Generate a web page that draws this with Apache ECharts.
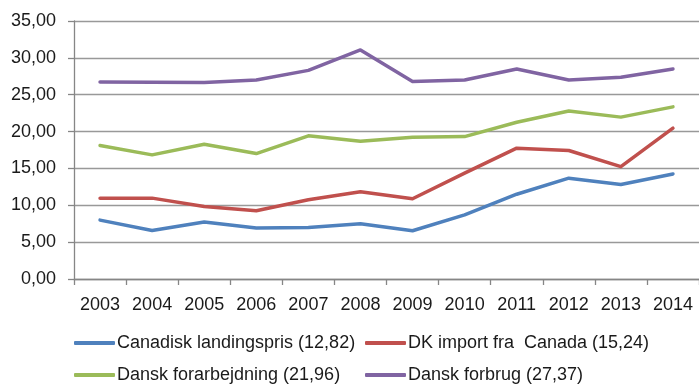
<!DOCTYPE html>
<html>
<head>
<meta charset="utf-8">
<script src="https://cdn.jsdelivr.net/npm/echarts@6/dist/echarts.min.js"></script>
<style>
  html, body { margin: 0; padding: 0; background: #fff; }
  #chart { width: 699px; height: 384px; }
</style>
</head>
<body>
<div id="chart"></div>
<script>
// Years on the category axis
const years = ['2003','2004','2005','2006','2007','2008','2009','2010','2011','2012','2013','2014'];

// Price series (DKK/kg)
const canadiskLandingspris = [7.99, 6.59, 7.72, 6.91, 6.98, 7.49, 6.54, 8.70, 11.50, 13.68, 12.82, 14.25];
const dkImportFraCanada    = [10.97, 10.97, 9.84, 9.25, 10.74, 11.85, 10.88, 14.36, 17.75, 17.43, 15.24, 20.46];
const danskForarbejdning   = [18.10, 16.84, 18.29, 17.02, 19.42, 18.70, 19.24, 19.32, 21.27, 22.80, 21.96, 23.35];
const danskForbrug         = [26.73, 26.70, 26.65, 27.00, 28.30, 31.07, 26.80, 27.00, 28.50, 27.00, 27.37, 28.50];

// Series names as shown in the legend
const names = [
  'Canadisk landingspris (12,82)',
  'DK import fra  Canada (15,24)',
  'Dansk forarbejdning (21,96)',
  'Dansk forbrug (27,37)'
];

// Y-axis range
const yMin = 0, yMax = 35, yStep = 5;

const colors = ['#4F81BD', '#C0504D', '#9BBB59', '#8064A2'];
const font = '"Liberation Sans", Arial, sans-serif';

const chart = echarts.init(document.getElementById('chart'), null, { renderer: 'canvas' });

function lineSeries(name, data, color) {
  return {
    name: name,
    type: 'line',
    data: data,
    symbol: 'none',
    color: color,
    lineStyle: { width: 3.5, color: color, cap: 'round', join: 'round' },
    animation: false
  };
}

// One legend entry per box, arranged in two columns and two rows
function legendItem(name, left, top) {
  return {
    left: left,
    top: top,
    data: [name],
    icon: 'roundRect',
    itemWidth: 41,
    itemHeight: 4,
    padding: 0,
    textStyle: { fontFamily: font, fontSize: 18, color: '#1a1a1a', lineHeight: 20, padding: [0, 0, 0, -3] }
  };
}

chart.setOption({
  animation: false,
  backgroundColor: '#ffffff',
  grid: { left: 74, top: 21, width: 626, height: 258, containLabel: false },
  legend: [
    legendItem(names[0], 74, 333),
    legendItem(names[1], 365, 333),
    legendItem(names[2], 74, 365),
    legendItem(names[3], 365, 365)
  ],
  xAxis: {
    type: 'category',
    data: years,
    boundaryGap: true,
    axisLine: { show: true, lineStyle: { color: '#868686', width: 1.3 } },
    axisTick: { show: true, inside: false, length: 6, alignWithLabel: false, lineStyle: { color: '#868686', width: 1.3 } },
    axisLabel: { fontFamily: font, fontSize: 18, color: '#1a1a1a', margin: 17 },
    splitLine: { show: false }
  },
  yAxis: {
    type: 'value',
    min: yMin,
    max: yMax,
    interval: yStep,
    axisLine: { show: true, lineStyle: { color: '#868686', width: 1.3 } },
    axisTick: { show: true, length: 6, lineStyle: { color: '#868686', width: 1.3 } },
    axisLabel: {
      fontFamily: font, fontSize: 18, color: '#1a1a1a', margin: 18,
      formatter: v => v.toFixed(2).replace('.', ',')
    },
    splitLine: { show: true, lineStyle: { color: '#999999', width: 1.4 } }
  },
  series: [
    lineSeries(names[0], canadiskLandingspris, colors[0]),
    lineSeries(names[1], dkImportFraCanada, colors[1]),
    lineSeries(names[2], danskForarbejdning, colors[2]),
    lineSeries(names[3], danskForbrug, colors[3])
  ]
});
</script>
</body>
</html>
